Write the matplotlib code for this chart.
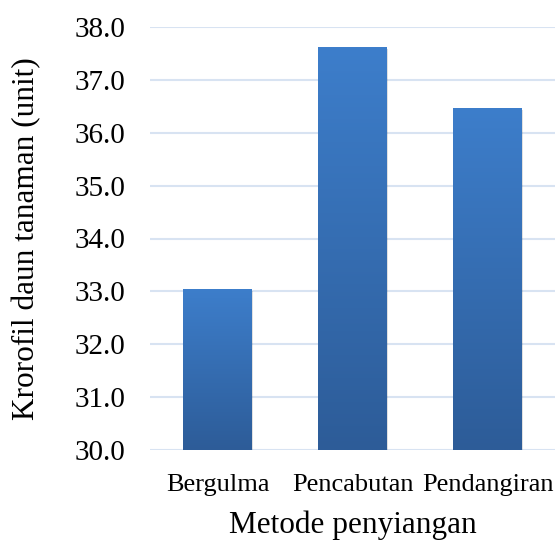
import matplotlib
matplotlib.use("Agg")
import matplotlib.pyplot as plt
import numpy as np
from matplotlib.colors import LinearSegmentedColormap

categories = ["Bergulma", "Pencabutan", "Pendangiran"]
values = [33.05, 37.62, 36.47]
yticks = [30.0, 31.0, 32.0, 33.0, 34.0, 35.0, 36.0, 37.0, 38.0]

plt.rcParams['font.family'] = ['Liberation Serif', 'DejaVu Serif']

fig = plt.figure(figsize=(5.58, 5.40), dpi=100)
ax = fig.add_axes([150/558, 90/540, 405/558, 423/540])

ax.set_ylim(30, 38)
ax.set_xlim(-0.5, 2.5)
ax.set_yticks(yticks)
ax.set_yticklabels([f"{v:.1f}" for v in yticks], fontsize=21)
ax.set_xticks(range(len(categories)))
ax.set_xticklabels(categories, fontsize=19)
ax.tick_params(axis='y', length=0, pad=18)
ax.tick_params(axis='x', length=0, pad=17.5)
ax.yaxis.grid(True, color='#D8E3F2', linewidth=1.5)
ax.set_axisbelow(True)
for s in ax.spines.values():
    s.set_visible(False)

cmap = LinearSegmentedColormap.from_list('g', ['#2D5C98', '#3D7ECB'])
grad = np.linspace(0, 1, 256).reshape(-1, 1)
bars = ax.bar(range(len(categories)), [v - 30 for v in values], bottom=30, width=0.51,
              color='none', edgecolor='none', zorder=3)
for b in bars:
    x0, y0 = b.get_x(), b.get_y()
    w, h = b.get_width(), b.get_height()
    ax.add_patch(plt.Rectangle((x0 + 0.008, y0 - 0.04), w, h, color='#000000', alpha=0.12, zorder=2, lw=0))
    im = ax.imshow(grad, extent=(x0, x0 + w, y0, y0 + h), origin='lower', cmap=cmap,
                   aspect='auto', zorder=3)
    im.set_clip_path(b)

ax.set_xlim(-0.5, 2.5)
ax.set_ylim(30, 38)
ax.set_ylabel("Krorofil daun tanaman (unit)", fontsize=22.5)
ax.set_xlabel("Metode penyiangan", fontsize=22.5)
ax.yaxis.set_label_coords((27 - 150) / 405, 0.5)
ax.yaxis.label.set_va('center')
ax.xaxis.set_label_coords(0.5, (450 - 525.5) / 423)
ax.xaxis.label.set_va('center')

fig.savefig("out.png", dpi=100)
